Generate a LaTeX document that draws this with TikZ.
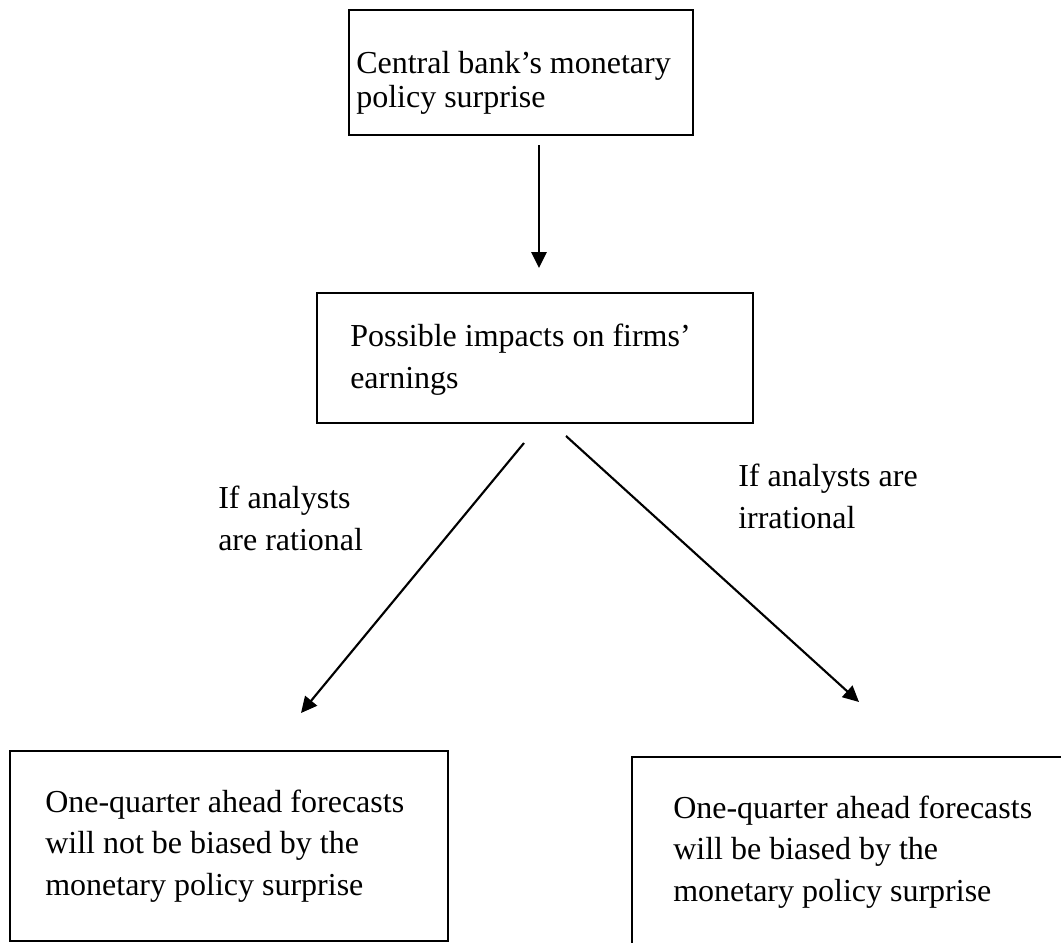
\documentclass[tikz,border=0pt]{standalone}
\usepackage{fontspec}
\setmainfont{Liberation Serif}
\usetikzlibrary{arrows.meta}
\begin{document}
\begin{tikzpicture}[x=0.75pt,y=-0.75pt,
  boxstyle/.style={draw=black,line width=2.2pt,rectangle,inner sep=0pt},
  txt/.style={anchor=base west,align=left,inner sep=0pt,font=\fontsize{24pt}{31.1pt}\selectfont},
  txttight/.style={txt,font=\fontsize{24pt}{24.8pt}\selectfont},
  conn/.style={line width=1.6pt,-{Triangle[width=11.5pt,length=12pt]}}]
\useasboundingbox (0,0) rectangle (1061,943);
\begin{scope}
\clip (0,0) rectangle (1061,943);
% boxes
\node[boxstyle,minimum width=344*0.75pt,minimum height=125*0.75pt] (b1) at (521,72.5) {};
\node[boxstyle,minimum width=436*0.75pt,minimum height=130*0.75pt] (b2) at (535,358) {};
\node[boxstyle,minimum width=438*0.75pt,minimum height=190*0.75pt] (b3) at (229,846) {};
\node[boxstyle,minimum width=460*0.75pt,minimum height=220*0.75pt] (b4) at (862,867) {};
\end{scope}
% texts (anchor = baseline of the last line)
\node[txttight] (t1) at (356,107) {Central bank’s monetary\\policy surprise};
\node[txt] (t2) at (350,388) {Possible impacts on firms’\\earnings};
\node[txt] (t3) at (45,895) {One-quarter ahead forecasts\\will not be biased by the\\monetary policy surprise};
\node[txt] (t4) at (673,901) {One-quarter ahead forecasts\\will be biased by the\\monetary policy surprise};
\node[txt] (l1) at (218,550) {If analysts\\are rational};
\node[txt] (l2) at (738,528) {If analysts are\\irrational};
% connector ends
\coordinate (a1s) at (539,145);
\coordinate (a1e) at (539,268);
\coordinate (a2s) at (524,443);
\coordinate (a2e) at (301,713);
\coordinate (a3s) at (566,436);
\coordinate (a3e) at (859,702);
\draw[conn] (a1s) -- (a1e);
\draw[conn] (a2s) -- (a2e);
\draw[conn] (a3s) -- (a3e);
\end{tikzpicture}
\end{document}
